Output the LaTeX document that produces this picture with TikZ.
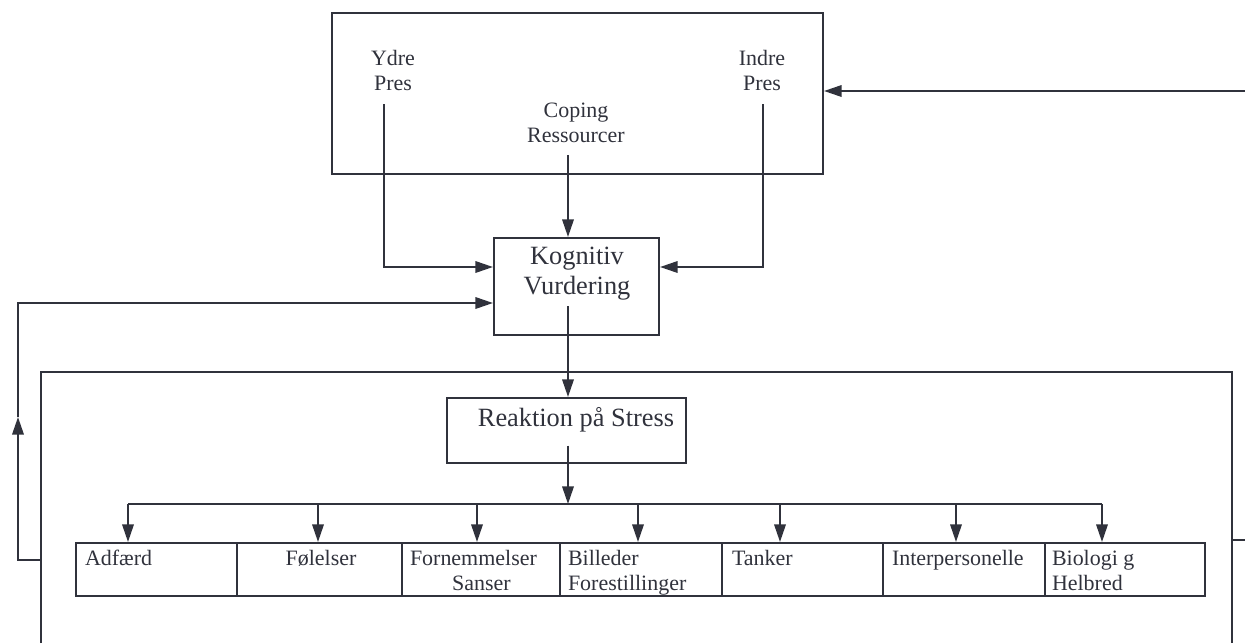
\documentclass[tikz,border=0pt]{standalone}
\usepackage{fontspec}
\setmainfont{Liberation Serif}
\usetikzlibrary{arrows.meta}
\definecolor{ink}{RGB}{48,50,60}
\begin{document}
\begin{tikzpicture}[x=0.02cm,y=-0.02cm,color=ink,line width=1.15pt,
  box/.style={draw,rectangle,inner sep=0pt},
  lbl/.style={inner sep=0pt,align=center,anchor=north,font=\fontsize{12.5}{14.2}\selectfont},
  big/.style={inner sep=0pt,align=center,anchor=north,font=\fontsize{15}{17}\selectfont},
  cell/.style={inner sep=0pt,align=left,anchor=north west,font=\fontsize{12.5}{14.2}\selectfont},
  arr/.style={-{Triangle[length=10pt,width=6.5pt]}},
  tx/.style={shorten <=#1}]
\pgfmathsetlengthmacro\px{0.02cm};
\useasboundingbox (0,0) rectangle (1245,643);
\coordinate (ax) at (568,0);
\node[box,minimum width=491*\px,minimum height=161*\px] (press) at (577.5,93.5) {};
\node[lbl] (ydre) at (393,49) {Ydre\\Pres};
\node[lbl] (indre) at (762,49) {Indre\\Pres};
\node[lbl] (coping) at (576,102) {Coping\\Ressourcer};
\node[box,minimum width=165*\px,minimum height=97*\px] (kog) at (576.5,286.5) {};
\node[big] (kogtxt) at (577,246) {Kognitiv\\Vurdering};
\draw (41,643) -- (41,372) -- (1232,372) -- (1232,643);
\node[box,minimum width=239*\px,minimum height=65*\px] (reak) at (566.5,430.5) {};
\node[big] (reaktxt) at (576,406) {Reaktion på Stress};
\foreach \n/\a/\b in {adf/76/237,fol/237/402,forn/402/560,bil/560/722,tan/722/883,inter/883/1045,bio/1045/1205}
  \node[box,minimum width=(\b-\a)*\px,minimum height=53*\px] (\n) at ({(\a+\b)/2},569.5) {};
\node[cell] (adft) at ([shift={(9,7)}]adf.north west) {Adfærd};
\node[cell,anchor=north] (folt) at ([shift={(1.5,7)}]fol.north) {Følelser};
\node[cell] (fornt) at ([shift={(8,7)}]forn.north west) {Fornemmelser\\\hspace*{24pt}Sanser};
\node[cell] (bilt) at ([shift={(8,7)}]bil.north west) {Billeder\\Forestillinger};
\node[cell] (tant) at ([shift={(10,7)}]tan.north west) {Tanker};
\node[cell] (intert) at ([shift={(9,7)}]inter.north west) {Interpersonelle};
\node[cell] (biot) at ([shift={(7,7)}]bio.north west) {Biologi g\\Helbred};
\draw[arr,tx=7.4pt] ([xshift=-9*\px]ydre.south) |- ([yshift=19.5*\px]kog.west);
\draw[arr,tx=7.4pt] ([xshift=1*\px]indre.south) |- ([yshift=19.5*\px]kog.east);
\draw[arr,tx=6.3pt] (ax |- coping.south) -- (ax |- kog.north);
\draw[arr,tx=3pt] (ax |- kogtxt.south) -- (ax |- reak.north);
\draw (128,504) coordinate (busL) -- (1102,504) coordinate (busR);
\draw[arr,tx=7.4pt] (ax |- reaktxt.south) -- (ax |- busL);
\foreach \n/\x in {adf/128,fol/318,forn/477,bil/638,tan/780,inter/956,bio/1102}
  {\coordinate (d\n) at (\x,504); \draw[arr] (d\n) -- (d\n |- \n.north);}
\coordinate (fl) at (41,560);
\coordinate (fc) at (18,417);
\draw[arr] (fl) -| (fc);
\draw[arr] (fc) |- ([yshift=-16.5*\px]kog.west);
\coordinate (fr) at (1245,91);
\draw[arr] (fr) -- (fr -| press.east);
\coordinate (fs) at (1232,540);
\draw (fs) -- (1245,540);
\end{tikzpicture}
\end{document}
